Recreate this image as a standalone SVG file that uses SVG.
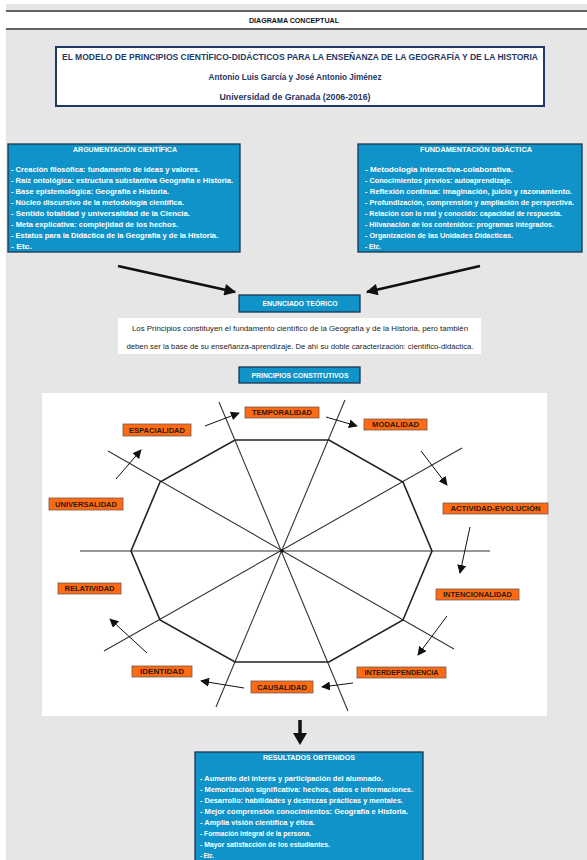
<svg xmlns="http://www.w3.org/2000/svg" width="587" height="860" viewBox="0 0 587 860">
<defs>
<style>
text{font-family:"Liberation Sans",Arial,sans-serif}
.hd{font-size:7.5px;font-weight:bold;fill:#111}
.tt{font-size:9px;font-weight:bold;fill:#1f3864}
.bx{fill:#1093c8;stroke:#1b3550;stroke-width:1.3}
.bt{font-size:7.2px;font-weight:bold;fill:#fff}
.bl{font-size:7.3px;font-weight:bold;fill:#fff}
.en{font-size:7.6px;fill:#222}
.lb{fill:#ff6a13;stroke:#6b5a50;stroke-width:0.8}
.lt{font-size:7.2px;font-weight:bold;fill:#2a1a10;text-anchor:middle}
.ln{stroke:#333;stroke-width:1.1;fill:none}
.oc{stroke:#222;stroke-width:1.6;fill:none}
.ar{stroke:#111;stroke-width:1;fill:none;marker-end:url(#ah)}
.ta{stroke:#111;stroke-width:2.6;fill:none;marker-end:url(#bh)}
</style>
<marker id="ah" viewBox="0 0 10 10" refX="9" refY="5" markerWidth="9" markerHeight="9" markerUnits="userSpaceOnUse" orient="auto"><path d="M0,0 L10,5 L0,10 z" fill="#111"/></marker>
<marker id="bh" viewBox="0 0 10 10" refX="9" refY="5" markerWidth="5" markerHeight="4.5" orient="auto"><path d="M0,0 L10,5 L0,10 z" fill="#111"/></marker>
</defs>
<rect x="0" y="0" width="587" height="860" fill="#fff"/>
<rect x="6" y="4" width="581" height="856" fill="#e6e6e6"/>
<g id="header">
<rect x="6" y="11" width="581" height="18" fill="#fff"/>
<line x1="6" y1="11" x2="587" y2="11" stroke="#333" stroke-width="1.5"/>
<line x1="6" y1="29" x2="587" y2="29" stroke="#333" stroke-width="1.5"/>
<text class="hd" x="294" y="22.5" text-anchor="middle" textLength="90" lengthAdjust="spacingAndGlyphs">DIAGRAMA CONCEPTUAL</text>
</g>
<g id="title">
<rect x="56" y="47" width="488" height="59" fill="#fff" stroke="#1f3864" stroke-width="2"/>
<text class="tt" x="300" y="60" text-anchor="middle" textLength="476" lengthAdjust="spacingAndGlyphs">EL MODELO DE PRINCIPIOS CIENTÍFICO-DIDÁCTICOS PARA LA ENSEÑANZA DE LA GEOGRAFÍA Y DE LA HISTORIA</text>
<text class="tt" x="295" y="80" text-anchor="middle" textLength="173" lengthAdjust="spacingAndGlyphs">Antonio Luis García y José Antonio Jiménez</text>
<text class="tt" x="295" y="100" text-anchor="middle" textLength="151" lengthAdjust="spacingAndGlyphs">Universidad de Granada (2006-2016)</text>
</g>
<g id="argumentacion">
<rect class="bx" x="8" y="144" width="232" height="108"/>
<text class="bt" x="125" y="151.5" text-anchor="middle" textLength="104" lengthAdjust="spacingAndGlyphs">ARGUMENTACIÓN CIENTÍFICA</text>
<text class="bl" x="11" y="171.5" textLength="189" lengthAdjust="spacingAndGlyphs">- Creación filosófica: fundamento de ideas y valores.</text>
<text class="bl" x="11" y="182.5" textLength="222" lengthAdjust="spacingAndGlyphs">- Raíz ontológica: estructura substantiva Geografía e Historia.</text>
<text class="bl" x="11" y="193.5" textLength="158" lengthAdjust="spacingAndGlyphs">- Base epistemológica: Geografía e Historia.</text>
<text class="bl" x="11" y="204.5" textLength="173" lengthAdjust="spacingAndGlyphs">- Núcleo discursivo de la metodología científica.</text>
<text class="bl" x="11" y="215.5" textLength="179" lengthAdjust="spacingAndGlyphs">- Sentido totalidad y universalidad de la Ciencia.</text>
<text class="bl" x="11" y="226.5" textLength="167" lengthAdjust="spacingAndGlyphs">- Meta explicativa: complejidad de los hechos.</text>
<text class="bl" x="11" y="237.5" textLength="207" lengthAdjust="spacingAndGlyphs">- Estatus para la Didáctica de la Geografía y de la Historia.</text>
<text class="bl" x="11" y="248.5" textLength="21" lengthAdjust="spacingAndGlyphs">- Etc.</text>
</g>
<g id="fundamentacion">
<rect class="bx" x="358" y="144" width="224" height="108"/>
<text class="bt" x="476" y="151.5" text-anchor="middle" textLength="112" lengthAdjust="spacingAndGlyphs">FUNDAMENTACIÓN DIDÁCTICA</text>
<text class="bl" x="365" y="171.5" textLength="148" lengthAdjust="spacingAndGlyphs">- Metodología interactiva-colaborativa.</text>
<text class="bl" x="365" y="182.5" textLength="147" lengthAdjust="spacingAndGlyphs">- Conocimientos previos: autoaprendizaje.</text>
<text class="bl" x="365" y="193.5" textLength="207" lengthAdjust="spacingAndGlyphs">- Reflexión continua: imaginación, juicio y razonamiento.</text>
<text class="bl" x="365" y="204.5" textLength="209" lengthAdjust="spacingAndGlyphs">- Profundización, comprensión y ampliación de perspectiva.</text>
<text class="bl" x="365" y="215.5" textLength="197" lengthAdjust="spacingAndGlyphs">- Relación con lo real y conocido: capacidad de respuesta.</text>
<text class="bl" x="365" y="226.5" textLength="189" lengthAdjust="spacingAndGlyphs">- Hilvanación de los contenidos: programas integrados.</text>
<text class="bl" x="365" y="237.5" textLength="148" lengthAdjust="spacingAndGlyphs">- Organización de las Unidades Didácticas.</text>
<text class="bl" x="365" y="248.5" textLength="16" lengthAdjust="spacingAndGlyphs">- Etc.</text>
</g>
<g id="enunciado">
<rect class="bx" x="239" y="295" width="121" height="17"/>
<text class="bt" x="300" y="306" text-anchor="middle" textLength="75" lengthAdjust="spacingAndGlyphs">ENUNCIADO TEÓRICO</text>
</g>
<g id="enunciado-texto">
<rect x="118" y="318" width="363" height="36" fill="#fff"/>
<text class="en" x="300" y="330.5" text-anchor="middle" textLength="336" lengthAdjust="spacingAndGlyphs">Los Principios constituyen el fundamento científico de la Geografía y de la Historia, pero también</text>
<text class="en" x="300" y="348.5" text-anchor="middle" textLength="347" lengthAdjust="spacingAndGlyphs">deben ser la base de su enseñanza-aprendizaje. De ahí su doble caracterización: científico-didáctica.</text>
</g>
<g id="principios">
<rect class="bx" x="239" y="367" width="121" height="16"/>
<text class="bt" x="300" y="378" text-anchor="middle" textLength="97" lengthAdjust="spacingAndGlyphs">PRINCIPIOS CONSTITUTIVOS</text>
</g>
<g id="panel">
<rect x="42" y="393" width="505" height="323" fill="#fff"/>
</g>
<g id="octagon">
<line class="ln" x1="80" y1="551" x2="490" y2="551"/>
<line class="ln" x1="108" y1="451" x2="454" y2="649"/>
<line class="ln" x1="219" y1="402" x2="348" y2="711"/>
<line class="ln" x1="345" y1="400" x2="216" y2="707"/>
<line class="ln" x1="462" y1="448" x2="104" y2="651"/>
<polygon class="oc" points="235,440 329,440 403,482 432,551 403,620 329,662 235,662 160,620 131,551 160,482"/>
<circle cx="282" cy="551" r="1.8" fill="#111"/>
</g>
<g id="connectors">
<line class="ta" x1="118" y1="266" x2="235" y2="292"/>
<line class="ta" x1="480" y1="266" x2="367" y2="292"/>
<line class="ar" x1="116" y1="479" x2="141" y2="450"/>
<line class="ar" x1="205" y1="426" x2="239" y2="413"/>
<line class="ar" x1="326" y1="417" x2="357" y2="426"/>
<line class="ar" x1="421" y1="451" x2="447" y2="485"/>
<line class="ar" x1="470" y1="527" x2="460" y2="573"/>
<line class="ar" x1="447" y1="616" x2="418" y2="655"/>
<line class="ar" x1="353" y1="683" x2="322" y2="687"/>
<line class="ar" x1="244" y1="688" x2="201" y2="681"/>
<line class="ar" x1="147" y1="653" x2="110" y2="619"/>
<line stroke="#111" stroke-width="3.5" x1="300" y1="720" x2="300" y2="734"/>
<path d="M293,733 L307,733 L300,745 z" fill="#111"/>
</g>
<g id="temporalidad"><rect class="lb" x="245" y="407" width="74" height="11"/><text class="lt" x="282" y="415.3" textLength="60" lengthAdjust="spacingAndGlyphs">TEMPORALIDAD</text></g>
<g id="espacialidad"><rect class="lb" x="123" y="424" width="68" height="12"/><text class="lt" x="157" y="432.8" textLength="56" lengthAdjust="spacingAndGlyphs">ESPACIALIDAD</text></g>
<g id="universalidad"><rect class="lb" x="49" y="498" width="74" height="12"/><text class="lt" x="86" y="506.8" textLength="62" lengthAdjust="spacingAndGlyphs">UNIVERSALIDAD</text></g>
<g id="modalidad"><rect class="lb" x="364" y="419" width="63" height="11"/><text class="lt" x="395.5" y="427.3" textLength="47" lengthAdjust="spacingAndGlyphs">MODALIDAD</text></g>
<g id="actividad-evolucion"><rect class="lb" x="443" y="503" width="105" height="11"/><text class="lt" x="495.5" y="511.3" textLength="90" lengthAdjust="spacingAndGlyphs">ACTIVIDAD-EVOLUCIÓN</text></g>
<g id="intencionalidad"><rect class="lb" x="436" y="589" width="83" height="11"/><text class="lt" x="477.5" y="597.3" textLength="69" lengthAdjust="spacingAndGlyphs">INTENCIONALIDAD</text></g>
<g id="interdependencia"><rect class="lb" x="357" y="667" width="89" height="11"/><text class="lt" x="401.5" y="675.3" textLength="74" lengthAdjust="spacingAndGlyphs">INTERDEPENDENCIA</text></g>
<g id="causalidad"><rect class="lb" x="251" y="681" width="62" height="12"/><text class="lt" x="282" y="689.8" textLength="50" lengthAdjust="spacingAndGlyphs">CAUSALIDAD</text></g>
<g id="identidad"><rect class="lb" x="132" y="666" width="60" height="11"/><text class="lt" x="162" y="674.3" textLength="44" lengthAdjust="spacingAndGlyphs">IDENTIDAD</text></g>
<g id="relatividad"><rect class="lb" x="58" y="583" width="63" height="11"/><text class="lt" x="89.5" y="591.3" textLength="50" lengthAdjust="spacingAndGlyphs">RELATIVIDAD</text></g>
<g id="resultados">
<rect class="bx" x="195" y="752" width="228" height="112"/>
<text class="bt" x="309" y="760" text-anchor="middle" textLength="92" lengthAdjust="spacingAndGlyphs">RESULTADOS OBTENIDOS</text>
<text class="bl" x="200" y="780.5" textLength="183" lengthAdjust="spacingAndGlyphs">- Aumento del interés y participación del alumnado.</text>
<text class="bl" x="200" y="791.5" textLength="213" lengthAdjust="spacingAndGlyphs">- Memorización significativa: hechos, datos e informaciones.</text>
<text class="bl" x="200" y="802.5" textLength="203" lengthAdjust="spacingAndGlyphs">- Desarrollo: habilidades y destrezas prácticas y mentales.</text>
<text class="bl" x="200" y="813.5" textLength="208" lengthAdjust="spacingAndGlyphs">- Mejor comprensión conocimientos: Geografía e Historia.</text>
<text class="bl" x="200" y="824.5" textLength="115" lengthAdjust="spacingAndGlyphs">- Amplia visión científica y ética.</text>
<text class="bl" x="200" y="835.5" textLength="111" lengthAdjust="spacingAndGlyphs">- Formación integral de la persona.</text>
<text class="bl" x="200" y="846.5" textLength="130" lengthAdjust="spacingAndGlyphs">- Mayor satisfacción de los estudiantes.</text>
<text class="bl" x="200" y="857.5" textLength="14" lengthAdjust="spacingAndGlyphs">- Etc.</text>
</g>
</svg>
